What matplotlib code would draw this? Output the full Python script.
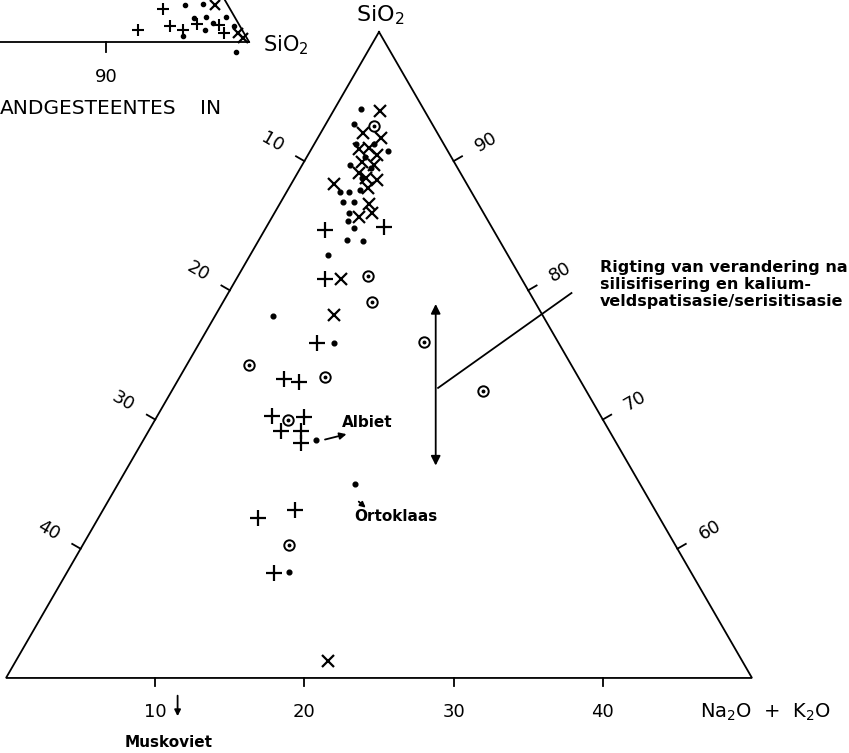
import numpy as np
import matplotlib
matplotlib.use("Agg")
import matplotlib.pyplot as plt

# Analyses in wt%: Na2O+K2O and SiO2, Al2O3 makes up the remainder
dot_alk = [1.8, 1.9, 5.2, 3.2, 3.6, 4.2, 4.8, 4.2, 4.9, 5.0, 5.2, 5.9, 5.9, 7.0,
           5.2, 3.9, 9.0, 14.9, 2.8, 3.9, 4.0, 4.5, 4.7]
dot_sio2 = [94.0, 92.9, 90.8, 89.7, 87.6, 87.6, 87.8, 86.8, 86.8, 86.0, 85.4, 84.8,
            83.9, 83.8, 82.7, 78.0, 75.9, 58.2, 91.3, 90.3, 91.3, 88.7, 89.5]

plus_alk = [4.0, 7.9, 5.9, 7.9, 7.1, 8.2, 7.7, 9.9, 8.9, 10.2, 10.7, 10.7, 12.9, 13.9]
plus_sio2 = [84.7, 84.9, 80.9, 75.9, 73.1, 72.9, 70.3, 70.2, 69.1, 69.1, 68.2, 62.4,
             63.0, 58.1]

cross_alk = [3.1, 2.8, 4.2, 2.9, 6.0, 5.8, 6.5, 7.0, 7.9, 20.9,
             3.2, 3.8, 4.6, 3.9, 4.8, 4.1, 4.8, 5.6, 5.3]
cross_sio2 = [93.9, 92.2, 91.8, 88.2, 86.7, 85.7, 86.0, 80.9, 78.1, 51.3,
              90.9, 91.0, 90.5, 89.9, 89.7, 89.1, 88.7, 88.5, 87.9]

ring_alk = [3.3, 8.7, 10.0, 15.0, 20.9, 4.2, 9.7, 8.9, 13.8]
ring_sio2 = [92.7, 81.1, 79.1, 76.0, 72.2, 74.2, 73.3, 70.0, 60.3]

# mineral compositions
albiet = (11.6, 68.4)
ortoklaas = (15.9, 65.0)
muskoviet_alk = 11.5  # plots below the SiO2 = 50 line

# small overview triangle: SiO2 and the top component (wt%)
ov_plus_sio2 = [92.6, 91.7, 93.8, 94.9, 95.6, 97.2, 97.9]
ov_plus_top = [2.7, 1.0, 1.3, 1.0, 1.45, 1.4, 0.7]
ov_dot_sio2 = [94.0, 95.2, 95.1, 95.2, 96.0, 97.4, 96.4, 96.7, 98.3, 99.5]
ov_dot_top = [3.0, 3.1, 0.5, 1.9, 2.0, 2.0, 1.0, 1.5, 1.3, -0.8]
ov_cross_sio2 = [96.1, 98.9, 99.4]
ov_cross_top = [3.0, 0.7, 0.3]

base_ticks = [10, 20, 30, 40]
left_ticks = [10, 20, 30, 40]
right_ticks = [90, 80, 70, 60]

note_lines = ["Rigting van verandering na",
              "silisifisering en kalium-",
              "veldspatisasie/serisitisasie"]

R3 = np.sqrt(3) / 2


def tern(alk, sio2):
    alk = np.asarray(alk, float)
    sio2 = np.asarray(sio2, float)
    return alk + (sio2 - 50) / 2, (sio2 - 50) * R3


OV_X0, OV_Y0, OV_K = 16.29, 42.63, 0.958


def overview(sio2, top):
    sio2 = np.asarray(sio2, float)
    top = np.asarray(top, float)
    d = (100 - sio2 - top) + top / 2
    return OV_X0 - OV_K * d, OV_Y0 + OV_K * R3 * top


plt.rcParams["font.family"] = "DejaVu Sans"

fig = plt.figure(figsize=(8.49, 7.53), dpi=100)
ax = fig.add_axes([0, 0, 1, 1])
ax.set_xlim(-0.402, 56.5)
ax.set_ylim(-5.03, 45.44)
ax.set_aspect("equal")
ax.axis("off")

lw = 1.3
# triangle outline
tx, ty = tern([0, 0, 50, 0], [100, 50, 50, 100])
ax.plot(tx, ty, color="black", lw=lw, solid_joinstyle="miter")

# ticks and labels
tl = 0.65
for v in base_ticks:
    x, y = tern(v, 50)
    ax.plot([x, x], [y, y - 0.55], color="black", lw=lw)
    ax.text(x, y - 2.3, str(v), ha="center", va="center", fontsize=13)
for v in left_ticks:
    x, y = tern(0, 100 - v)
    ax.plot([x, x - tl * R3], [y, y + tl / 2], color="black", lw=lw)
    ax.text(x - 2.5 * R3, y + 1.25, str(v), ha="center", va="center",
            rotation=-30, fontsize=13)
for v in right_ticks:
    x, y = tern(100 - v, v)
    ax.plot([x, x + tl * R3], [y, y + tl / 2], color="black", lw=lw)
    ax.text(x + 2.5 * R3, y + 1.25, str(v), ha="center", va="center",
            rotation=30, fontsize=13)

ax.text(25.1, 44.4, "SiO$_2$", ha="center", va="center", fontsize=16)
ax.text(46.5, -2.28, "Na$_2$O  +  K$_2$O", ha="left", va="center", fontsize=14)

# data points
x, y = tern(dot_alk, dot_sio2)
ax.plot(x, y, "o", color="black", ms=3.4, ls="none")
x, y = tern(plus_alk, plus_sio2)
ax.plot(x, y, "+", color="black", ms=11, mew=1.6, ls="none")
x, y = tern(cross_alk, cross_sio2)
ax.plot(x, y, "x", color="black", ms=8, mew=1.6, ls="none")
x, y = tern(ring_alk, ring_sio2)
ax.plot(x, y, "o", color="black", mfc="none", ms=7.5, mew=1.4, ls="none")
ax.plot(x, y, "o", color="black", ms=1.8, ls="none")

# minerals
bold = dict(fontweight="bold", fontsize=11)
x, y = tern(*albiet)
ax.plot(x, y, "o", color="black", ms=3.4)
ax.annotate("", xy=(x + 2.2, y + 0.45), xytext=(x + 0.4, y),
            arrowprops=dict(arrowstyle="-|>", color="black", lw=1.3, mutation_scale=10))
ax.text(x + 1.7, y + 1.2, "Albiet", ha="left", va="center", **bold)

x, y = tern(*ortoklaas)
ax.plot(x, y, "o", color="black", ms=3.4)
ax.annotate("", xy=(x + 0.85, y - 1.7), xytext=(x + 0.1, y - 1.05),
            arrowprops=dict(arrowstyle="-|>", color="black", lw=1.3, mutation_scale=8))
ax.text(x - 0.05, y - 2.2, "Ortoklaas", ha="left", va="center", **bold)

x, y = tern(muskoviet_alk, 50)
ax.annotate("", xy=(x, y - 2.75), xytext=(x, y - 1.0),
            arrowprops=dict(arrowstyle="-|>", color="black", lw=1.3, mutation_scale=9))
ax.text(x - 0.6, y - 4.3, "Muskoviet", ha="center", va="center", **bold)

# alteration direction
ax.annotate("", xy=(28.8, 25.25), xytext=(28.8, 14.05),
            arrowprops=dict(arrowstyle="<|-|>", color="black", lw=1.3, mutation_scale=14))
ax.plot([28.96, 37.9], [19.44, 25.8], color="black", lw=lw)
for i, line in enumerate(note_lines):
    ax.text(39.8, 27.48 - 1.14 * i, line, ha="left", va="center",
            fontweight="bold", fontsize=11.5)

# overview triangle
ax.plot([-1, OV_X0], [OV_Y0, OV_Y0], color="black", lw=lw)
ex, ey = overview([100, 95], [0, 5])
ax.plot(ex, ey, color="black", lw=lw)
x, y = overview(90, 0)
ax.plot([x, x], [y, y - 0.65], color="black", lw=lw)
ax.text(x, y - 2.35, "90", ha="center", va="center", fontsize=13)
ax.text(OV_X0 + 0.95, OV_Y0 - 0.2, "SiO$_2$", ha="left", va="center", fontsize=15)
ax.text(-0.4, 38.2, "ANDGESTEENTES", ha="left", va="center", fontsize=14.5)
ax.text(13.0, 38.2, "IN", ha="left", va="center", fontsize=14.5)
x, y = overview(ov_plus_sio2, ov_plus_top)
ax.plot(x, y, "+", color="black", ms=9, mew=1.5, ls="none")
x, y = overview(ov_dot_sio2, ov_dot_top)
ax.plot(x, y, "o", color="black", ms=3, ls="none")
x, y = overview(ov_cross_sio2, ov_cross_top)
ax.plot(x, y, "x", color="black", ms=7, mew=1.6, ls="none")

fig.savefig("out.png", dpi=100, facecolor="white")
